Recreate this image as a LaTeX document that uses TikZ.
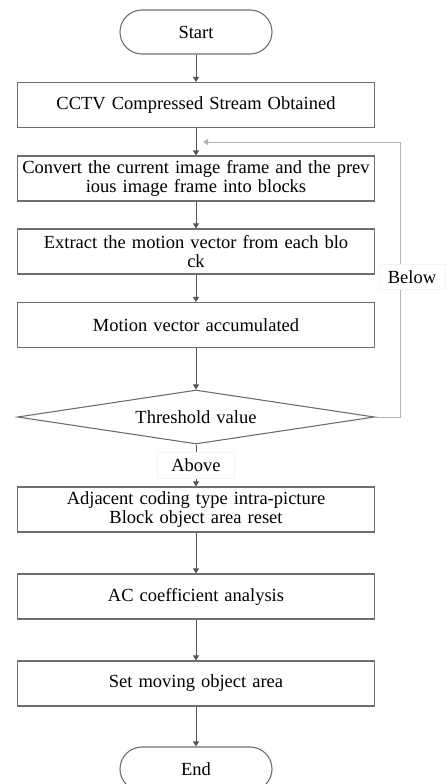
\documentclass[tikz,border=0pt]{standalone}
\usepackage{fontspec}
\setmainfont{Liberation Serif}[WordSpace=1.3]
\usepackage{tikz}
\usetikzlibrary{arrows.meta,shapes.geometric}
\definecolor{Edge}{HTML}{6E6E6E}
\definecolor{Flow}{HTML}{555555}
\definecolor{Loop}{HTML}{B2B2B2}
\tikzset{
flowbox/.style={draw=Edge, line width=1.1pt, minimum width=357pt, minimum height=45pt, align=center, inner sep=2pt},
flowterm/.style={draw=Edge, line width=1.1pt, rounded corners=22pt, minimum width=152pt, minimum height=44pt, inner sep=2pt},
flowdec/.style={draw=Edge, line width=1.1pt, diamond, aspect=6.6, minimum width=357pt, minimum height=54pt, inner sep=0pt},
flowlabel/.style={fill=white, draw=black!4, inner ysep=6pt},
flowarrow/.style={-{Triangle[length=5pt,width=6pt]}, line width=1pt, draw=Flow},
flowloop/.style={-{Triangle[length=5pt,width=6pt]}, line width=1pt, draw=Loop}
}

\begin{document}
\begin{tikzpicture}[x=1pt, y=-1pt, font=\fontsize{18.5}{19}\selectfont]
  \useasboundingbox (0,0) rectangle (445,784);
  \node[flowterm] (start) at (196,32) {Start};
  \node[flowbox] (cctv) at (196,105) {CCTV Compressed Stream Obtained};
  \node[flowbox] (conv) at (196,178.5) {Convert the current image frame and the prev\\ious image frame into blocks};
  \node[flowbox] (extr) at (196,251.5) {Extract the motion vector from each blo\\ck};
  \node[flowbox] (accum) at (196,325) {Motion vector accumulated};
  \node[flowdec] (thresh) at (196,417) {Threshold value};
  \node[flowbox] (adj) at (196,509.5) {Adjacent coding type intra-picture\\Block object area reset};
  \node[flowbox] (ac) at (196,596.5) {AC coefficient analysis};
  \node[flowbox] (setarea) at (196,683.5) {Set moving object area};
  \node[flowterm] (finish) at (196,769) {End};
  \coordinate (loopin) at (203,142);
  \draw[flowarrow] (start) -- (cctv);
  \draw[flowarrow] (cctv) -- (conv);
  \draw[flowarrow] (conv) -- (extr);
  \draw[flowarrow] (extr) -- (accum);
  \draw[flowarrow] (accum) -- (thresh);
  \draw[flowarrow] (thresh) -- node[flowlabel, inner xsep=14pt] (above) {Above} (adj);
  \draw[flowarrow] (adj) -- (ac);
  \draw[flowarrow] (ac) -- (setarea);
  \draw[flowarrow] (setarea) -- (finish);
  % below threshold: back to the block conversion
  \draw[flowloop] (thresh.east) -- ++(25,0) |- (loopin);
  \node[flowlabel, inner xsep=9pt] (below) at (412,277) {Below};
\end{tikzpicture}
\end{document}
